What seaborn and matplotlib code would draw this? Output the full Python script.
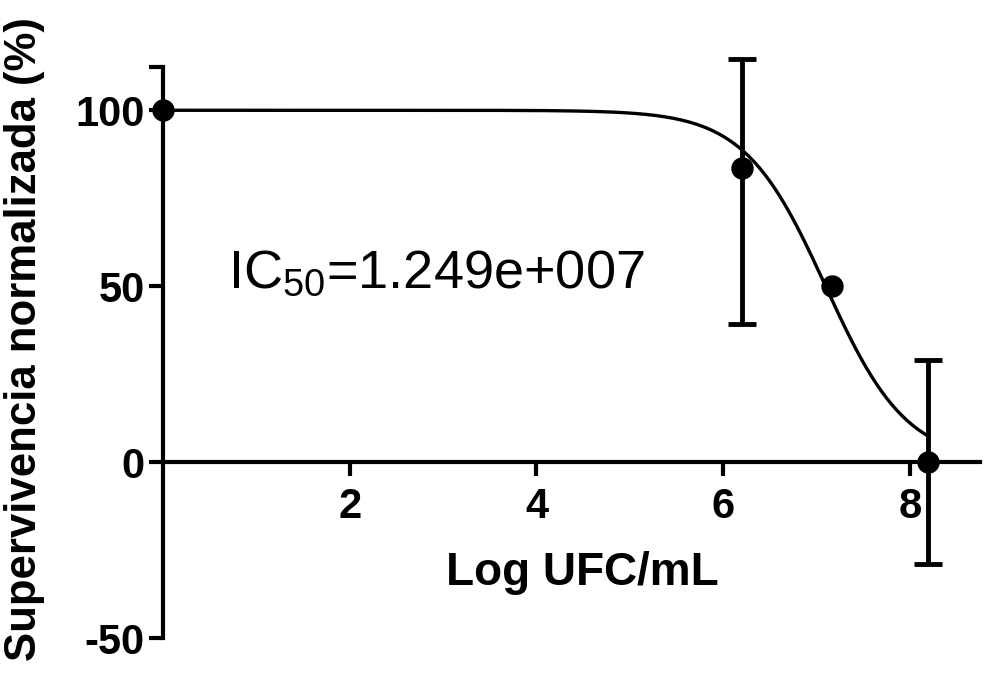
import numpy as np
import pandas as pd
import seaborn as sns
import matplotlib.pyplot as plt

# measured points (log UFC/mL vs normalised survival)
log_ufc = [0.0, 6.2, 7.17, 8.19]
survival = [100.0, 83.5, 50.0, 0.0]
err_low = [0.0, 44.3, 0.0, 29.0]
err_high = [0.0, 31.0, 0.0, 29.0]

# fitted dose-response parameters (from the IC50 label)
ic50 = 1.249e7
hill_slope = 1.0
top, bottom = 100.0, 0.0

points = pd.DataFrame({"x": log_ufc, "y": survival, "lo": err_low, "hi": err_high})
with_err = points[(points.lo > 0) | (points.hi > 0)]

x_fit = np.linspace(0, 8.19, 300)
y_fit = bottom + (top - bottom) / (1 + 10 ** ((x_fit - np.log10(ic50)) * hill_slope))
curve = pd.DataFrame({"x": x_fit, "y": y_fit})

sns.set_theme(style="ticks")
plt.rcParams['font.family'] = ['Liberation Sans', 'DejaVu Sans']
plt.rcParams['mathtext.fontset'] = 'custom'
plt.rcParams['mathtext.rm'] = 'Liberation Sans'
plt.rcParams['mathtext.it'] = 'Liberation Sans'
plt.rcParams['axes.unicode_minus'] = False
plt.rcParams['text.color'] = 'black'
plt.rcParams['axes.labelcolor'] = 'black'
plt.rcParams['xtick.labelcolor'] = 'black'
plt.rcParams['ytick.labelcolor'] = 'black'

fig = plt.figure(figsize=(9.95, 6.91), dpi=100)
ax = fig.add_axes([163 / 995, 1 - 638 / 691, (980 - 163) / 995, (638 - 67) / 691])

sns.lineplot(data=curve, x="x", y="y", color="black", linewidth=2.4, ax=ax)
eb = ax.errorbar(with_err.x, with_err.y, yerr=[with_err.lo, with_err.hi], fmt="none",
                 ecolor="black", elinewidth=3.5, capsize=10, capthick=3.5, zorder=3)
for art in eb.lines[1] + eb.lines[2]:
    art.set_clip_on(False)
sns.scatterplot(data=points, x="x", y="y", color="black", s=260, marker="o",
                edgecolor="black", linewidth=0, ax=ax, zorder=4, clip_on=False)

ax.set_xlim(0, 8.75)
ax.set_ylim(-50, 112.3)
ax.spines['bottom'].set_position(('data', 0))
ax.spines['top'].set_visible(False)
ax.spines['right'].set_visible(False)
for s in ['left', 'bottom']:
    ax.spines[s].set_linewidth(3)
    ax.spines[s].set_color('black')

ax.set_xticks([2, 4, 6, 8])
ax.set_yticks([-50, 0, 50, 100])
ax.set_yticks([112.3], minor=True)
ax.tick_params(axis='both', which='both', direction='out', width=3, length=10,
               color='black', labelsize=30)
ax.tick_params(axis='x', pad=8)
ax.tick_params(axis='y', pad=3)
for lab in ax.get_xticklabels() + ax.get_yticklabels():
    lab.set_fontweight('bold')

ax.set_xlabel("Log UFC/mL", fontsize=33, fontweight='bold')
ax.xaxis.set_label_coords((582 - 163) / 817, 1 - (573 - 67) / 571)
ax.xaxis.label.set_va('center')
ax.set_ylabel("Supervivencia normalizada (%)", fontsize=31.5, fontweight='bold')
ax.yaxis.set_label_coords((25 - 163) / 817, (638 - 339) / 571)
ax.yaxis.label.set_va('center')

ax.text(0.7, 49.5, r"IC$_{50}$=1.249e+007", fontsize=39, ha='left', va='baseline')

fig.savefig("out.png", dpi=100)
